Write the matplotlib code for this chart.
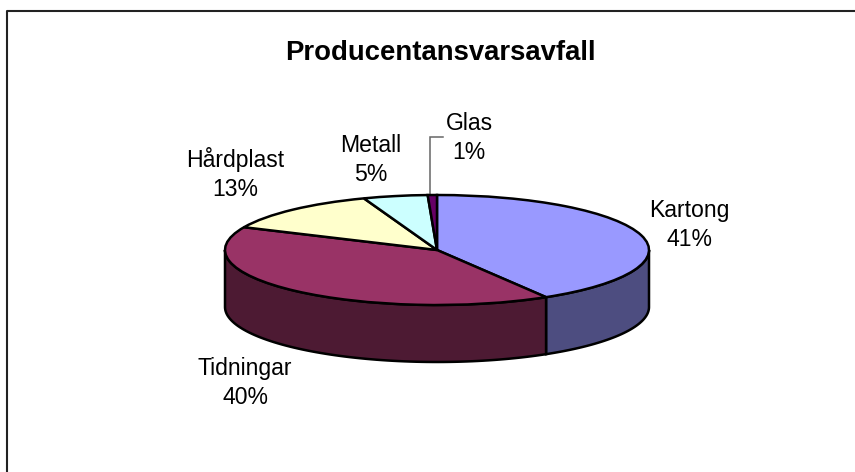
import numpy as np
import matplotlib
matplotlib.use('Agg')
import matplotlib.pyplot as plt

plt.rcParams['font.family'] = ['Liberation Sans', 'DejaVu Sans']

categories = ['Kartong', 'Tidningar', 'Hårdplast', 'Metall', 'Glas']
values = [41.4, 40.4, 12.6, 4.9, 0.7]
top_colors = ['#9999FF', '#993366', '#FFFFCC', '#CCFFFF', '#660066']
side_colors = ['#4D4D80', '#4D1A33', '#808066', '#668080', '#330033']

W, H = 855, 472
CX, CY, RX, RY = 437, 250, 212, 55
DEPTH = 57 / RY
label_pos = [(689, 225), (245, 383), (235, 174), (371, 160), (469, 138)]

fig = plt.figure(figsize=(W / 100, H / 100), dpi=100, facecolor='white')
ax = fig.add_axes([0, 0, 1, 1])


def px(x, y):
    return (x - CX) / RX, (CY - y) / RY


# side wall, only the front half of the ring shows
edges = np.cumsum([0] + values) / sum(values) * 2 * np.pi
for i in range(len(values)):
    a0, a1 = max(edges[i], np.pi / 2), min(edges[i + 1], 3 * np.pi / 2)
    if a1 <= a0:
        continue
    t = np.linspace(a0, a1, 80)
    xs, ys = np.sin(t), np.cos(t)
    ax.fill(np.r_[xs, xs[::-1]], np.r_[ys, ys[::-1] - DEPTH],
            facecolor=side_colors[i], edgecolor='black', linewidth=1.8, zorder=1)

ax.pie(values, colors=top_colors, startangle=90, counterclock=False,
       wedgeprops={'edgecolor': 'black', 'linewidth': 1.8, 'zorder': 2})

ax.set_aspect('auto')
ax.set_xlim((0 - CX) / RX, (W - CX) / RX)
ax.set_ylim((CY - H) / RY, CY / RY)
ax.axis('off')

# chart frame runs off the right and bottom of the picture
lx, ly = zip(px(7, H + 5), px(7, 11), px(W + 5, 11))
ax.plot(lx, ly, color='#222222', linewidth=1.5, zorder=3)

# leader line for Glas
lx, ly = zip(px(430, 195), px(430, 137), px(443, 137))
ax.plot(lx, ly, color='#666666', linewidth=1.1, zorder=1.5, solid_joinstyle='miter')

for name, val, (x, y) in zip(categories, values, label_pos):
    tx, ty = px(x, y)
    ax.text(tx, ty, f'{name}\n{val:.0f}%', ha='center', va='center', fontsize=16.6,
            linespacing=1.35, color='black', zorder=4)

tx, ty = px(440, 53)
ax.text(tx, ty, 'Producentansvarsavfall', ha='center', va='center',
        fontsize=19.8, fontweight='bold', color='black', zorder=4)

fig.savefig('out.png', dpi=100)
